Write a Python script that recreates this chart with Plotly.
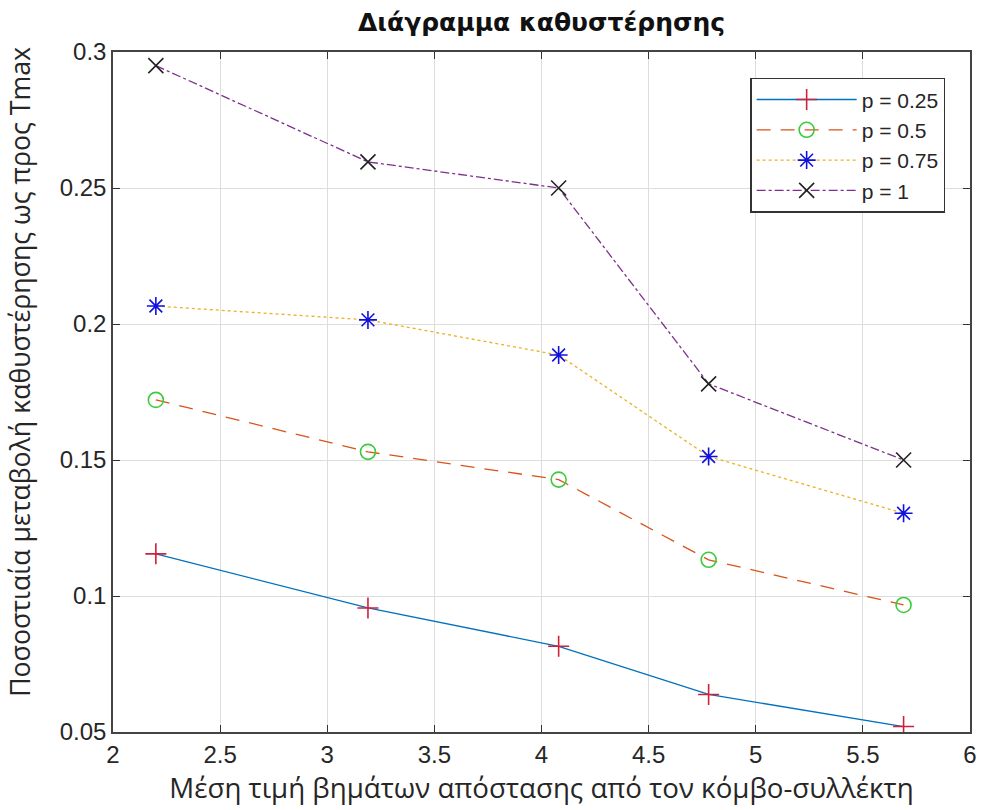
import plotly.graph_objects as go

# dados
x_vals = [2.2, 3.19, 4.08, 4.78, 5.69]
p025 = [0.1155, 0.0956, 0.0815, 0.0638, 0.052]
p050 = [0.1721, 0.153, 0.1428, 0.1133, 0.0967]
p075 = [0.2066, 0.2015, 0.1886, 0.1513, 0.1304]
p100 = [0.295, 0.2596, 0.25, 0.178, 0.15]
nomes = ['p = 0.25', 'p = 0.5', 'p = 0.75', 'p = 1']

x_ticks = [2, 2.5, 3, 3.5, 4, 4.5, 5, 5.5, 6]
y_ticks = [0.05, 0.1, 0.15, 0.2, 0.25, 0.3]
y_tick_text = ['0.05', '0.1', '0.15', '0.2', '0.25', '0.3']

fonte = 'Liberation Sans, Arial, sans-serif'
fonte_titulos = 'Open Sans, DejaVu Sans, sans-serif'

estilos = [
    # cor da linha, tracejado, simbolo, cor do marcador
    ('#0072BD', 'solid', 'cross-thin', '#D0203A'),
    ('#D95319', '14px,10px', 'circle-open', '#3CCB3C'),
    ('#EDB120', 'dot', 'asterisk', '#1010E0'),
    ('#7E2F8E', 'dashdot', 'x-thin', '#222222'),
]

fig = go.Figure()
for nome, serie, (cor, dash, simb, cor_m) in zip(nomes, [p025, p050, p075, p100], estilos):
    fig.add_trace(go.Scatter(
        x=x_vals, y=serie, name=nome, mode='lines+markers',
        line=dict(color=cor, width=1.3, dash=dash),
        marker=dict(symbol=simb, size=15, color=cor_m,
                    line=dict(color=cor_m, width=1.6)),
    ))

fig.update_layout(
    width=981, height=810,
    margin=dict(l=113, r=11, t=52, b=78),
    plot_bgcolor='white', paper_bgcolor='white',
    font=dict(family=fonte, color='#262626', size=22),
    title=dict(text='<b>Διάγραμμα καθυστέρησης</b>', x=0.5, xref='paper',
               y=0.973, yanchor='middle',
               font=dict(family='DejaVu Sans, sans-serif', size=25, color='#111111')),
    legend=dict(x=0.971, y=0.962, xanchor='right', yanchor='top',
                bgcolor='white', bordercolor='#333333', borderwidth=1.5,
                itemwidth=100,
                font=dict(size=21, color='#262626'), tracegroupgap=0),
)
# titulo do eixo y como anotacao para acertar a posicao
fig.add_annotation(
    text='Ποσοστιαία μεταβολή καθυστέρησης ως προς Tmax',
    xref='paper', yref='paper', x=-0.109, y=0.529,
    xanchor='center', yanchor='middle', textangle=-90, showarrow=False,
    font=dict(family=fonte_titulos, size=26.7, color='#262626'),
)
fig.update_xaxes(
    range=[2, 6], tickvals=x_ticks, ticks='inside', ticklen=7,
    tickcolor='#333333', showline=True, linecolor='#444444', linewidth=1.5,
    mirror='ticks', showgrid=True, gridcolor='#DDDDDD', zeroline=False,
    automargin=False, tickfont=dict(size=24, color='#262626'),
    title=dict(text='Μέση τιμή βημάτων απόστασης από τον κόμβο-συλλέκτη',
               font=dict(family=fonte_titulos, size=27.7, color='#262626'), standoff=10),
)
fig.update_yaxes(
    range=[0.05, 0.3], tickvals=y_ticks, ticktext=y_tick_text, ticks='inside',
    ticklen=7, tickcolor='#333333', showline=True, linecolor='#444444',
    linewidth=1.5, mirror='ticks', showgrid=True, gridcolor='#DDDDDD',
    zeroline=False, automargin=False, tickfont=dict(size=24, color='#262626'),
)

# tira a margem do body para a figura ocupar a janela toda
fig.write_html("out.html", config={'displayModeBar': False},
               post_script="document.body.style.margin='0';")
